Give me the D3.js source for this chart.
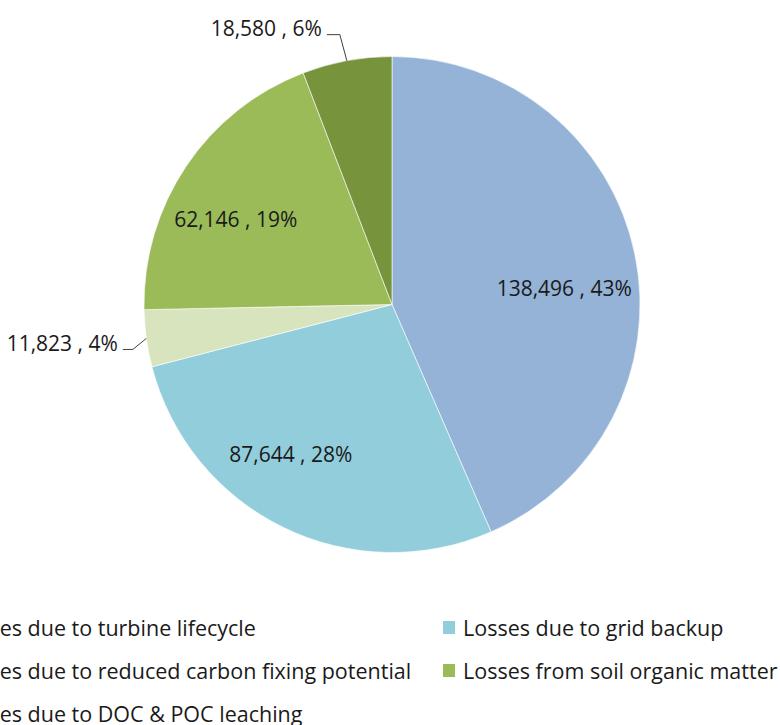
<!DOCTYPE html>
<html>
<head>
<meta charset="utf-8">
<script src="https://cdn.jsdelivr.net/npm/d3@7"></script>
<style>
  body { margin: 0; background: #fff; }
  svg { display: block; }
  text { font-family: "Open Sans", Lato, sans-serif; fill: #1a1a1a; }
</style>
</head>
<body>
<svg id="chart" width="780" height="725"></svg>
<script>
// values
var categories = [
    'Losses due to turbine lifecycle',
    'Losses due to grid backup',
    'Losses due to reduced carbon fixing potential',
    'Losses from soil organic matter',
    'Losses due to DOC & POC leaching'
];
var values = [138496, 87644, 11823, 62146, 18580];
var percents = [43, 28, 4, 19, 6];
var colors = ['#95B3D7', '#92CDDC', '#D7E4BD', '#9BBB59', '#77933C'];

var svg = d3.select('#chart');
var cx = 392, cy = 304.5, R = 248;

var data = values.map(function (v, i) {
    return { name: categories[i], value: v, pct: percents[i], color: colors[i], i: i };
});

var pie = d3.pie().sort(null).value(function (d) { return d.value; });
var arcs = pie(data);
var arc = d3.arc().innerRadius(0).outerRadius(R);
var labelArc = d3.arc().innerRadius(R * 0.73).outerRadius(R * 0.73);

var g = svg.append('g').attr('transform', 'translate(' + cx + ',' + cy + ')');

g.selectAll('path').data(arcs).enter().append('path')
    .attr('d', arc)
    .attr('fill', function (d) { return d.data.color; })
    .attr('stroke', '#fff')
    .attr('stroke-width', 0.6);

var fmt = d3.format(',');
function labelText(d) { return fmt(d.data.value) + ' , ' + d.data.pct + '%'; }

// big slices: label inside, nudged off the centroid like excel does
var nudge = { 0: [-5, 21], 1: [-22, -13], 3: [-6, 16] };
var inside = arcs.filter(function (d) { return d.data.pct >= 10; });
g.selectAll('text.in').data(inside).enter().append('text')
    .attr('class', 'in')
    .attr('x', function (d) { return labelArc.centroid(d)[0] + nudge[d.data.i][0]; })
    .attr('y', function (d) { return labelArc.centroid(d)[1] + nudge[d.data.i][1]; })
    .attr('dy', '0.35em')
    .attr('text-anchor', 'middle')
    .style('font-size', '21px')
    .text(labelText);

// small slices: label outside with leader line
var outside = arcs.filter(function (d) { return d.data.pct < 10; });
var leader = {
    2: { dx: -13.5, dy: 11, len: 10 },  // reduced carbon fixing
    4: { dx: -7, dy: -26, len: 13 }     // DOC & POC
};
outside.forEach(function (d) {
    var a = (d.startAngle + d.endAngle) / 2;
    var px = Math.sin(a) * R, py = -Math.cos(a) * R;
    var o = leader[d.data.i];
    var kx = px + o.dx, ky = py + o.dy;
    var ex = kx - o.len;
    g.append('polyline')
        .attr('points', [[px, py], [kx, ky], [ex, ky]].map(function (p) { return p.join(','); }).join(' '))
        .attr('fill', 'none')
        .attr('stroke', '#404040')
        .attr('stroke-width', 1);
    g.append('text')
        .attr('x', ex - 5)
        .attr('y', ky + 1.5)
        .attr('text-anchor', 'end')
        .style('font-size', '21px')
        .text(labelText(d));
});

// legend, two columns, left column runs off the page like the original
var legX = [-65, 443], legY = [628, 671, 714];
var leg = svg.append('g');
data.forEach(function (d, i) {
    var x = legX[i % 2], y = legY[Math.floor(i / 2)];
    leg.append('rect')
        .attr('x', x).attr('y', y - 7)
        .attr('width', 12).attr('height', 13)
        .attr('fill', d.color);
    leg.append('text')
        .attr('x', x + 20).attr('y', y)
        .attr('dy', '0.35em')
        .style('font-size', '21.5px')
        .text(d.name);
});
</script>
</body>
</html>
